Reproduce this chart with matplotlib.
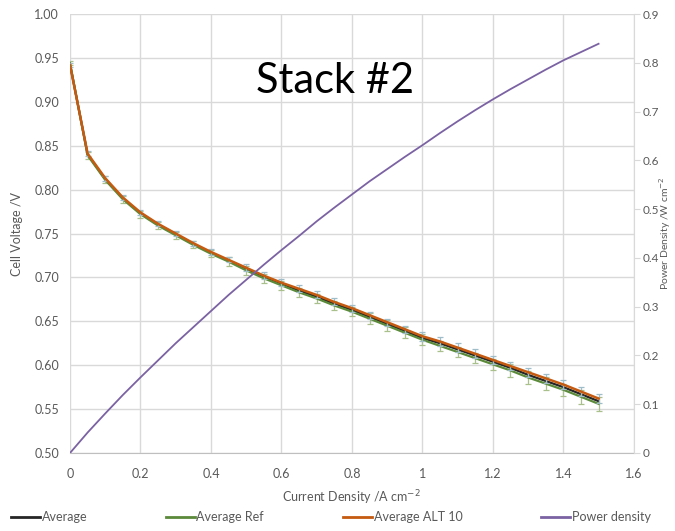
#!/usr/bin/env python
"""
Polarisation curves and power density for stack #2
"""

import matplotlib

matplotlib.use("Agg")
import matplotlib.pyplot as plt
from matplotlib.lines import Line2D

current = [0.00, 0.05, 0.10, 0.15, 0.20, 0.25, 0.30, 0.35, 0.40, 0.45, 0.50,
           0.55, 0.60, 0.65, 0.70, 0.75, 0.80, 0.85, 0.90, 0.95, 1.00,
           1.05, 1.10, 1.15, 1.20, 1.25, 1.30, 1.35, 1.40, 1.45, 1.50]
average = [0.943, 0.840, 0.812, 0.790, 0.773, 0.760, 0.749, 0.738, 0.728, 0.719, 0.710,
           0.701, 0.693, 0.685, 0.678, 0.670, 0.663, 0.655, 0.647, 0.639, 0.631,
           0.625, 0.618, 0.611, 0.604, 0.597, 0.589, 0.582, 0.575, 0.567, 0.559]
average_ref = [0.944, 0.839, 0.811, 0.789, 0.772, 0.759, 0.748, 0.737, 0.727, 0.718, 0.708,
               0.699, 0.691, 0.683, 0.676, 0.668, 0.661, 0.653, 0.645, 0.637, 0.629,
               0.622, 0.615, 0.608, 0.601, 0.594, 0.586, 0.579, 0.572, 0.564, 0.556]
average_alt = [0.942, 0.841, 0.813, 0.791, 0.774, 0.761, 0.750, 0.739, 0.729, 0.720, 0.711,
               0.702, 0.694, 0.687, 0.680, 0.672, 0.665, 0.657, 0.649, 0.641, 0.633,
               0.627, 0.620, 0.613, 0.606, 0.599, 0.592, 0.585, 0.578, 0.570, 0.562]
ref_err = [0.002, 0.004, 0.004, 0.004, 0.004, 0.004, 0.004, 0.004, 0.004, 0.005, 0.005,
           0.005, 0.005, 0.005, 0.005, 0.005, 0.005, 0.006, 0.006, 0.006, 0.006,
           0.006, 0.006, 0.006, 0.006, 0.007, 0.007, 0.007, 0.007, 0.008, 0.008]
alt_err = [0.002, 0.003, 0.003, 0.003, 0.003, 0.003, 0.003, 0.003, 0.003, 0.003, 0.004,
           0.004, 0.004, 0.004, 0.004, 0.004, 0.004, 0.004, 0.004, 0.004, 0.005,
           0.005, 0.005, 0.005, 0.005, 0.005, 0.005, 0.005, 0.005, 0.005, 0.005]
power = [0.000, 0.042, 0.081, 0.119, 0.155, 0.190, 0.225, 0.258, 0.291, 0.324, 0.355,
         0.386, 0.416, 0.445, 0.475, 0.503, 0.530, 0.557, 0.582, 0.607, 0.631,
         0.656, 0.680, 0.703, 0.725, 0.746, 0.766, 0.786, 0.805, 0.822, 0.839]

x_ticks = [0, 0.2, 0.4, 0.6, 0.8, 1.0, 1.2, 1.4, 1.6]
x_labels = ["0", "0.2", "0.4", "0.6", "0.8", "1", "1.2", "1.4", "1.6"]
v_ticks = [0.50, 0.55, 0.60, 0.65, 0.70, 0.75, 0.80, 0.85, 0.90, 0.95, 1.00]
p_ticks = [0, 0.1, 0.2, 0.3, 0.4, 0.5, 0.6, 0.7, 0.8, 0.9]
p_labels = ["0", "0.1", "0.2", "0.3", "0.4", "0.5", "0.6", "0.7", "0.8", "0.9"]

GREY = "#595959"
GRID = "#d9d9d9"
C_AVG = "#262626"
C_REF = "#5b8a3a"
C_ALT = "#c55a11"
C_PWR = "#7b62a3"


def main():
    plt.rcParams["font.family"] = ["Lato", "DejaVu Sans"]
    fig = plt.figure(figsize=(6.75, 5.31), dpi=100)
    ax = fig.add_axes([0.1037, 0.1469, 0.8353, 0.8267])
    ax2 = ax.twinx()

    ax.plot(current, average, color=C_AVG, lw=1.6, zorder=3)
    ax.errorbar(current, average_ref, yerr=ref_err, color=C_REF, lw=1.6,
                ecolor="#a9c08c", elinewidth=0.9, capsize=2.5, capthick=0.9,
                zorder=4)
    ax.errorbar(current, average_alt, yerr=alt_err, color=C_ALT, lw=1.8,
                ecolor="#9fbcc9", elinewidth=0.9, capsize=2.5, capthick=0.9,
                zorder=5)
    ax2.plot(current, power, color=C_PWR, lw=1.3)

    ax.set_xlim(0, 1.6)
    ax.set_ylim(0.5, 1.0)
    ax2.set_ylim(0, 0.9)
    ax.set_xticks(x_ticks, x_labels)
    ax.set_yticks(v_ticks, [f"{v:.2f}" for v in v_ticks])
    ax2.set_yticks(p_ticks, p_labels)

    ax.grid(True, color=GRID, lw=1.0)
    ax.set_axisbelow(True)
    for side in ["left", "top", "right"]:
        ax.spines[side].set_visible(False)
        ax2.spines[side].set_visible(False)
    ax2.spines["bottom"].set_visible(False)
    ax2.spines["right"].set_visible(True)
    ax2.spines["right"].set_color(GRID)
    ax.spines["bottom"].set_color("#bfbfbf")

    ax.tick_params(axis="x", length=0, pad=11, labelsize=9, labelcolor=GREY)
    ax.tick_params(axis="y", length=0, pad=8, labelsize=9, labelcolor=GREY)
    ax2.tick_params(axis="y", length=4, color=GRID, pad=2, labelsize=8.5,
                    labelcolor=GREY)

    ax.set_xlabel("Current Density /A cm$^{-2}$", fontsize=9, color=GREY, labelpad=6)
    ax.set_ylabel("Cell Voltage /V", fontsize=9, color=GREY, labelpad=8)
    ax2.set_ylabel("Power Density /W cm$^{-2}$", fontsize=7.5, color=GREY,
                   rotation=90, va="center")
    ax2.yaxis.set_label_coords(1.056, 0.5)

    fig.text(0.496, 0.847, "Stack #2", fontsize=30, ha="center", va="center",
             color="black")

    handles = [Line2D([], [], color=c, lw=2) for c in (C_AVG, C_REF, C_ALT, C_PWR)]
    labels = ["Average", "Average Ref", "Average ALT 10", "Power density"]
    fig.legend(handles, labels, loc="lower center", bbox_to_anchor=(0.49, -0.006),
               ncol=4, frameon=False, fontsize=9, labelcolor=GREY,
               handlelength=2.3, handletextpad=0.15, columnspacing=6.3)

    fig.savefig("out.png", dpi=100)


if __name__ == "__main__":
    main()
